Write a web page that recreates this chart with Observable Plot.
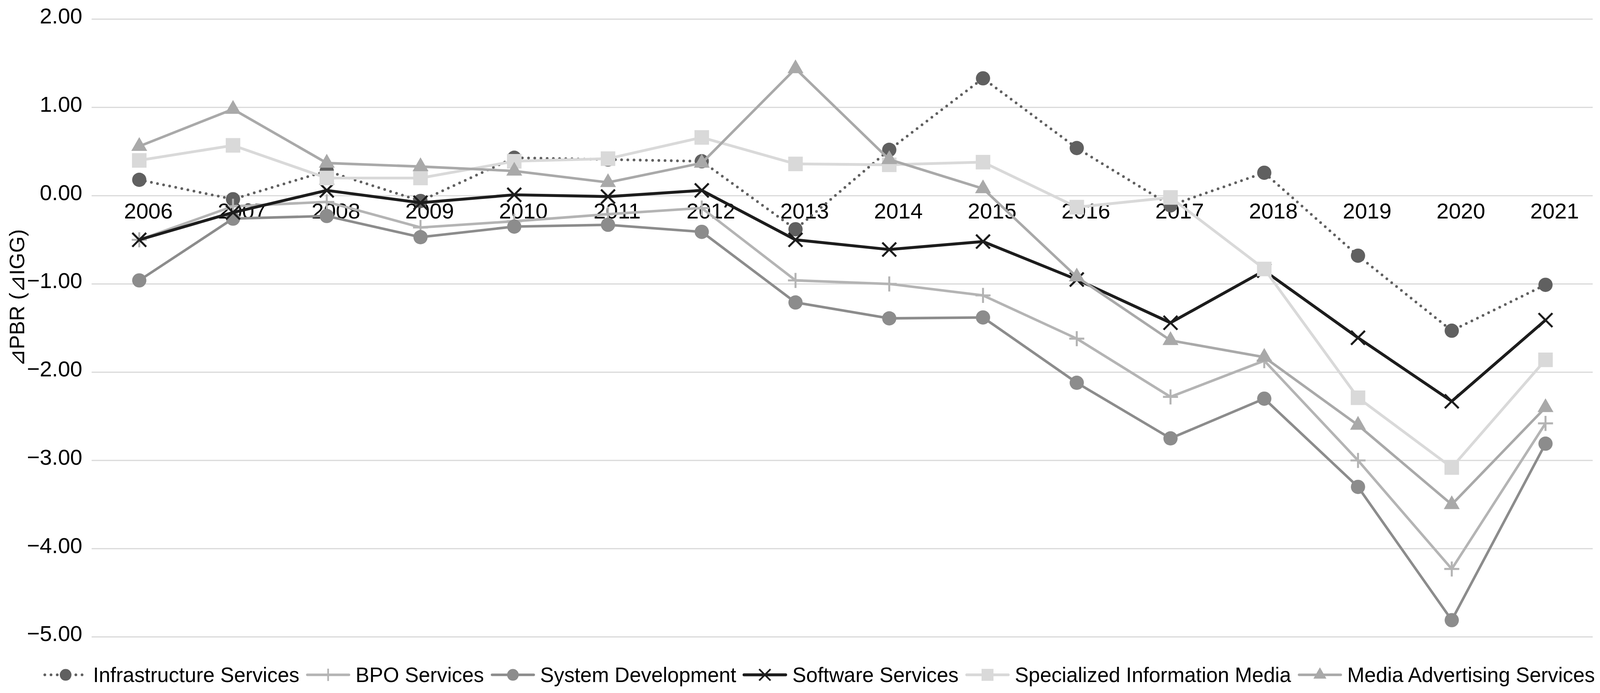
<!DOCTYPE html>
<html>
<head>
<meta charset="utf-8">
<script src="https://cdn.jsdelivr.net/npm/d3@7"></script>
<script src="https://cdn.jsdelivr.net/npm/@observablehq/plot@0.6"></script>
<style>
  html, body { margin: 0; padding: 0; background: #fff; overflow: hidden; }
  body { font-family: "Liberation Sans", Arial, sans-serif; }
  #legend { box-sizing: border-box; display: flex; align-items: center; color: #000; white-space: nowrap; }
  .item { display: flex; align-items: center; }
  .item svg { overflow: visible; }
</style>
</head>
<body>
<div id="chart"></div>
<div id="legend"></div>
<script>
// ---- data ----
const years = ["2006","2007","2008","2009","2010","2011","2012","2013","2014","2015","2016","2017","2018","2019","2020","2021"];
const yTicks = [-5, -4, -3, -2, -1, 0, 1, 2];
const yLabel = "⊿PBR (⊿IGG)";

const infrastructure = [0.18, -0.04, 0.28, -0.06, 0.43, 0.41, 0.39, -0.38, 0.52, 1.33, 0.54, -0.11, 0.26, -0.68, -1.53, -1.01];
const bpo            = [-0.50, -0.12, -0.07, -0.36, -0.29, -0.21, -0.14, -0.96, -1.00, -1.13, -1.62, -2.28, -1.87, -3.00, -4.23, -2.58];
const systemDev      = [-0.96, -0.26, -0.23, -0.47, -0.35, -0.33, -0.41, -1.21, -1.39, -1.38, -2.12, -2.75, -2.30, -3.30, -4.81, -2.81];
const software       = [-0.50, -0.19, 0.06, -0.08, 0.01, -0.01, 0.06, -0.50, -0.61, -0.52, -0.95, -1.44, -0.85, -1.61, -2.33, -1.41];
const specialized    = [0.40, 0.57, 0.20, 0.20, 0.39, 0.42, 0.66, 0.36, 0.35, 0.38, -0.13, -0.02, -0.83, -2.29, -3.08, -1.86];
const mediaAdv       = [0.56, 0.98, 0.37, 0.33, 0.28, 0.15, 0.37, 1.44, 0.41, 0.08, -0.92, -1.64, -1.83, -2.60, -3.50, -2.40];

const seriesNames = ["Infrastructure Services", "BPO Services", "System Development", "Software Services", "Specialized Information Media", "Media Advertising Services"];
const seriesValues = [infrastructure, bpo, systemDev, software, specialized, mediaAdv];

// ---- styles (design units, 4383 x 1773) ----
const styles = [
  {color: "#606060", width: 7.5, dash: [0, 17],  symbol: "circle",   r: 19.5, filled: true},
  {color: "#b4b4b4", width: 7,   dash: null,     symbol: "plus",     r: 13.3, filled: false, sw: 5.5},
  {color: "#8c8c8c", width: 7,   dash: null,     symbol: "circle",   r: 19.5, filled: true},
  {color: "#1c1c1c", width: 8,   dash: null,     symbol: "times",    r: 17.3, filled: false, sw: 5.5},
  {color: "#d9d9d9", width: 7.5, dash: null,     symbol: "square",   r: 22.5, filled: true},
  {color: "#a9a9a9", width: 7,   dash: null,     symbol: "triangle", r: 16.2, filled: true}
];

// fit the 4383x1773 design into the actual viewport
const W = document.documentElement.clientWidth || window.innerWidth || 4383;
const H = document.documentElement.clientHeight || window.innerHeight || 1773;
const sx = W / 4383, sy = H / 1773;
document.body.style.width = W + "px";
document.body.style.height = H + "px";

const dash = s => s.dash ? s.dash.map(v => v * sx).join(" ") : undefined;

const marks = [
  Plot.ruleY(yTicks, {stroke: "#d9d9d9", strokeWidth: 3 * sy}),
  Plot.text(years, {x: d => d, y: d => 0, text: d => d, dx: 25 * sx, dy: 40 * sy, fontSize: 60 * sx, fill: "#000"}),
  Plot.axisY(yTicks, {tickSize: 0, tickPadding: 26 * sx, tickFormat: d3.format(".2f"), fontSize: 60 * sx, dy: -7 * sy, label: null, fill: "#000"})
];

seriesNames.forEach((name, i) => {
  const s = styles[i];
  const rows = years.map((y, j) => ({year: y, value: seriesValues[i][j]}));
  marks.push(Plot.line(rows, {
    x: "year", y: "value", stroke: s.color, strokeWidth: s.width * sx,
    strokeDasharray: dash(s), strokeLinecap: "round", strokeLinejoin: "round"
  }));
  marks.push(Plot.dot(rows, s.filled
    ? {x: "year", y: "value", symbol: () => s.symbol, r: s.r * sx, fill: s.color, stroke: "none"}
    : {x: "year", y: "value", symbol: () => s.symbol, r: s.r * sx, fill: "none", stroke: s.color, strokeWidth: s.sw * sx}
  ));
});

const plotH = 1660 * sy, mTop = 48.6 * sy, mBottom = 31 * sy, mLeft = 251 * sx;
const frameMid = (mTop + (plotH - mBottom)) / 2;
marks.push(Plot.text([yLabel], {
  frameAnchor: "left", textAnchor: "middle", rotate: -90,
  dx: 47 * sx - mLeft, dy: 762 * sy - frameMid,
  fontSize: 58 * sx, fill: "#000", text: d => d
}));

const chart = Plot.plot({
  width: W,
  height: plotH,
  marginLeft: mLeft,
  marginRight: 20 * sx,
  marginTop: mTop,
  marginBottom: mBottom,
  x: {type: "point", domain: years, padding: 0.5, axis: null},
  y: {domain: [-5, 2], axis: null},
  symbol: {type: "identity"},
  style: {fontFamily: "'Liberation Sans', Arial, sans-serif", background: "#fff", overflow: "visible"},
  marks
});
document.getElementById("chart").appendChild(chart);

// ---- legend ----
const legendEl = document.getElementById("legend");
Object.assign(legendEl.style, {
  height: (113 * sy) + "px", paddingTop: (20 * sy) + "px", paddingLeft: (119 * sx) + "px", fontSize: (56.5 * sx) + "px"
});
const symbolMap = {circle: d3.symbolCircle, plus: d3.symbolPlus, times: d3.symbolTimes, square: d3.symbolSquare, triangle: d3.symbolTriangle};
const legend = d3.select("#legend");
seriesNames.forEach((name, i) => {
  const s = styles[i];
  const item = legend.append("div").attr("class", "item").style("margin-right", (18 * sx) + "px");
  const sw = 122 * sx, sh = 44 * sx, cy = sh / 2;
  const svg = item.append("svg").attr("width", sw).attr("height", sh).style("margin-right", (14 * sx) + "px");
  svg.append("line").attr("x1", 4 * sx).attr("x2", sw - 4 * sx).attr("y1", cy).attr("y2", cy)
    .attr("stroke", s.color).attr("stroke-width", s.width * sx).attr("stroke-linecap", "round")
    .attr("stroke-dasharray", dash(s) || null);
  const rr = s.r * 0.82 * sx;
  const p = svg.append("path").attr("d", d3.symbol(symbolMap[s.symbol], Math.PI * rr * rr)())
    .attr("transform", `translate(${sw / 2},${cy})`);
  if (s.filled) p.attr("fill", s.color);
  else p.attr("fill", "none").attr("stroke", s.color).attr("stroke-width", s.sw * 0.85 * sx);
  item.append("span").text(name);
});
</script>
</body>
</html>
